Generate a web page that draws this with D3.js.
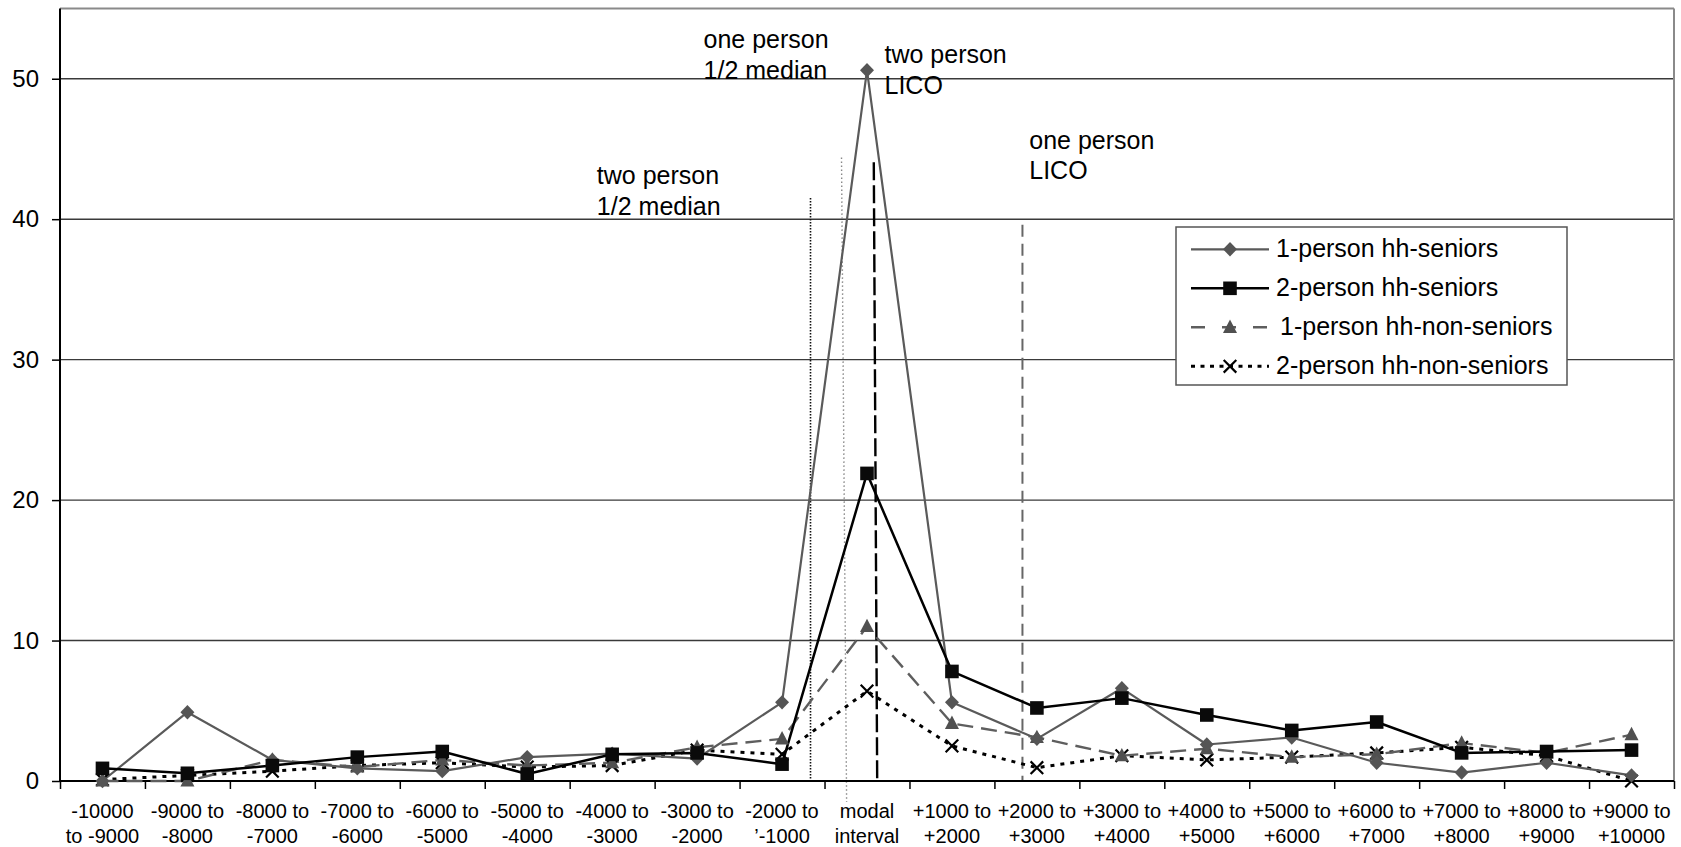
<!DOCTYPE html>
<html><head><meta charset="utf-8">
<script src="https://cdn.jsdelivr.net/npm/d3@7"></script>
<style>
html,body{margin:0;padding:0;background:#fff;}
svg{display:block;font-family:"Liberation Sans",Arial,Helvetica,sans-serif;}
</style></head><body>
<svg id="chart" width="1681" height="847"></svg>
<script>
// ---------- data ----------
const categoriesTop = ["-10000","-9000 to","-8000 to","-7000 to","-6000 to","-5000 to","-4000 to","-3000 to","-2000 to","modal","+1000 to","+2000 to","+3000 to","+4000 to","+5000 to","+6000 to","+7000 to","+8000 to","+9000 to"];
const categoriesBottom = ["to -9000","-8000","-7000","-6000","-5000","-4000","-3000","-2000","\u2019-1000","interval","+2000","+3000","+4000","+5000","+6000","+7000","+8000","+9000","+10000"];
const yTicks = [0,10,20,30,40,50];
const yMax = 55;
const seriesNames = ["1-person hh-seniors","2-person hh-seniors","1-person hh-non-seniors","2-person hh-non-seniors"];
const onePersonSeniors    = [0.0, 4.9, 1.5, 0.9, 0.7, 1.7, 1.95, 1.6, 5.6, 50.6, 5.6, 3.0, 6.6, 2.6, 3.1, 1.3, 0.6, 1.3, 0.4];
const twoPersonSeniors    = [0.9, 0.55, 1.1, 1.7, 2.1, 0.5, 1.9, 2.0, 1.2, 21.9, 7.8, 5.2, 5.9, 4.7, 3.6, 4.2, 2.0, 2.1, 2.2];
const onePersonNonSeniors = [0.0, 0.0, 1.5, 1.0, 1.5, 1.1, 1.3, 2.4, 3.0, 11.0, 4.1, 3.1, 1.8, 2.3, 1.7, 1.9, 2.7, 2.0, 3.3];
const twoPersonNonSeniors = [0.1, 0.4, 0.7, 1.1, 1.3, 1.0, 1.1, 2.2, 1.9, 6.4, 2.5, 0.95, 1.8, 1.5, 1.7, 2.0, 2.4, 1.8, 0.0];
// reference lines (x in category-index units, y in value units)
const refLineX0   = [8.335, 8.70, 9.08, 10.83];
const refLineX1   = [8.335, 8.76, 9.12, 10.83];
const refLineTop  = [41.5, 44.4, 44.05, 39.6];
const refLineBot  = [0, -1.5, 0, 0];
// annotation labels
const annotationText = [["one person","1/2 median"],["two person","LICO"],["two person","1/2 median"],["one person","LICO"]];
const annotationX = [7.076, 9.206, 5.82, 10.91];
const annotationY = [52.18, 51.1, 42.48, 45.02];

// ---------- layout ----------
const L = 60, R = 1674, T = 8.5, B = 781;
const svg = d3.select("#chart");
const idx = d3.range(categoriesTop.length);
const xBand = d3.scaleBand().domain(idx).range([L, R]).padding(0);
const xFrac = d3.scaleLinear().domain([-0.5, categoriesTop.length - 0.5]).range([L, R]);
const y = d3.scaleLinear().domain([0, yMax]).range([B, T]);
const cx = i => xBand(i) + xBand.bandwidth() / 2;

// gridlines
svg.append("g").selectAll("line").data(yTicks.filter(d => d > 0)).join("line")
  .attr("x1", L).attr("x2", R).attr("y1", d => y(d)).attr("y2", d => y(d))
  .attr("stroke", "#3a3a3a").attr("stroke-width", 1.4);

// plot border (top / right)
svg.append("line").attr("x1", L).attr("x2", R).attr("y1", T).attr("y2", T).attr("stroke", "#8a8a8a").attr("stroke-width", 2);
svg.append("line").attr("x1", R).attr("x2", R).attr("y1", T).attr("y2", B).attr("stroke", "#8a8a8a").attr("stroke-width", 2);

// reference lines
const refStyles = [
  {stroke: "#111", width: 1.6, dash: "1.5,1.5"},
  {stroke: "#888", width: 1.4, dash: "1.5,2.5"},
  {stroke: "#000", width: 2.4, dash: "18,5"},
  {stroke: "#666", width: 2, dash: "12,7"}
];
svg.append("g").selectAll("line").data(refLineX0).join("line")
  .attr("x1", (d, i) => xFrac(refLineX0[i])).attr("x2", (d, i) => xFrac(refLineX1[i]))
  .attr("y1", (d, i) => y(refLineTop[i])).attr("y2", (d, i) => y(refLineBot[i]))
  .attr("stroke", (d, i) => refStyles[i].stroke)
  .attr("stroke-width", (d, i) => refStyles[i].width)
  .attr("stroke-dasharray", (d, i) => refStyles[i].dash);

// axes
const yAxis = svg.append("g").attr("transform", `translate(${L},0)`)
  .call(d3.axisLeft(y).tickValues(yTicks).tickSize(8).tickPadding(13).tickFormat(d3.format("d")));
yAxis.select(".domain").attr("stroke", "#000").attr("stroke-width", 2).attr("d", `M0,${T}V${B}`);
yAxis.selectAll(".tick line").attr("stroke", "#000").attr("stroke-width", 1.5);
yAxis.selectAll(".tick text").attr("font-size", 24).attr("fill", "#000")
  .attr("font-family", '"Liberation Sans",Arial,sans-serif');

const xAxis = svg.append("g").attr("transform", `translate(0,${B})`)
  .call(d3.axisBottom(xFrac).tickValues(d3.range(-0.5, categoriesTop.length, 1)).tickSize(8).tickFormat(""));
xAxis.select(".domain").attr("stroke", "#000").attr("stroke-width", 2.2).attr("d", `M${L},0H${R}`);
xAxis.selectAll(".tick line").attr("stroke", "#000").attr("stroke-width", 1.5);

const xl = svg.append("g").attr("font-size", 20).attr("fill", "#000").attr("text-anchor", "middle");
xl.selectAll("text.t1").data(idx).join("text").attr("class", "t1")
  .attr("x", i => cx(i)).attr("y", 817.5).text(i => categoriesTop[i]);
xl.selectAll("text.t2").data(idx).join("text").attr("class", "t2")
  .attr("x", i => cx(i)).attr("y", 842.5).text(i => categoriesBottom[i]);

// series
const seriesData = [onePersonSeniors, twoPersonSeniors, onePersonNonSeniors, twoPersonNonSeniors];
const styles = [
  {stroke: "#5a5a5a", width: 2.2, dash: null, marker: "diamond"},
  {stroke: "#000", width: 2.5, dash: null, marker: "square"},
  {stroke: "#5e5e5e", width: 2.4, dash: "16,8", marker: "triangle"},
  {stroke: "#000", width: 3, dash: "4,6", marker: "x"}
];
const line = d3.line().x((d, i) => cx(i)).y(d => y(d));

function drawMarker(g, type, px, py) {
  if (type === "diamond") {
    g.append("path").attr("d", "M0,-7.2L7,0L0,7.2L-7,0Z").attr("transform", `translate(${px},${py})`).attr("fill", "#555");
  } else if (type === "square") {
    g.append("path").attr("d", "M-6.8,-6.8H6.8V6.8H-6.8Z").attr("transform", `translate(${px},${py})`).attr("fill", "#0a0a0a");
  } else if (type === "triangle") {
    g.append("path").attr("d", "M0,-7.8L7,5.6L-7,5.6Z").attr("transform", `translate(${px},${py})`).attr("fill", "#505050");
  } else if (type === "x") {
    g.append("path").attr("d", "M-6.3,-6.3L6.3,6.3M-6.3,6.3L6.3,-6.3").attr("transform", `translate(${px},${py})`)
      .attr("fill", "none").attr("stroke", "#000").attr("stroke-width", 2.2);
  }
}

const drawOrder = [3, 2, 0, 1];
drawOrder.forEach(k => {
  const st = styles[k];
  svg.append("path").datum(seriesData[k]).attr("d", line).attr("fill", "none")
    .attr("stroke", st.stroke).attr("stroke-width", st.width)
    .attr("stroke-dasharray", st.dash).attr("stroke-linejoin", "round");
});
drawOrder.forEach(k => {
  const g = svg.append("g");
  seriesData[k].forEach((v, i) => drawMarker(g, styles[k].marker, cx(i), y(v)));
});

// legend
const lg = svg.append("g");
lg.append("rect").attr("x", 1176).attr("y", 227).attr("width", 391).attr("height", 158)
  .attr("fill", "#fff").attr("stroke", "#555").attr("stroke-width", 1.5);
seriesNames.forEach((name, k) => {
  const cy = 249.3 + k * 39;
  const st = styles[k];
  lg.append("line").attr("x1", 1191).attr("x2", 1269).attr("y1", cy).attr("y2", cy)
    .attr("stroke", st.stroke).attr("stroke-width", st.width)
    .attr("stroke-dasharray", k === 2 ? "14,17" : (k === 3 ? "4,5.5" : null));
  drawMarker(lg, st.marker, 1230, cy);
  lg.append("text").attr("x", k === 2 ? 1280 : 1276).attr("y", cy + 8).attr("font-size", 25).attr("fill", "#000").text(name);
});

// annotations
const an = svg.append("g").attr("font-size", 25).attr("fill", "#000");
annotationText.forEach((lines, i) => {
  const t = an.append("text").attr("x", xFrac(annotationX[i])).attr("y", y(annotationY[i]));
  lines.forEach((s, j) => t.append("tspan").attr("x", xFrac(annotationX[i])).attr("dy", j === 0 ? 0 : 30.5).text(s));
});
</script>
</body></html>
